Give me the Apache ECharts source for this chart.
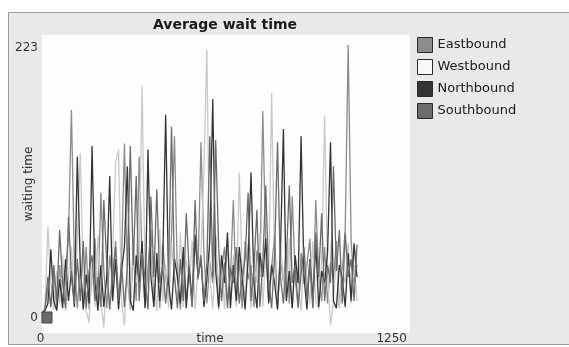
<!DOCTYPE html>
<html>
<head>
<meta charset="utf-8">
<script src="https://cdn.jsdelivr.net/npm/echarts@6/dist/echarts.min.js"></script>
<style>
  html, body {margin: 0; padding: 0; background: #fff;}
  #chart {width: 569px; height: 347px;}
</style>
</head>
<body>
<div id="chart"></div>
<script>
// samples every 10 time units, from t = 0
const timeStep = 10;
const seriesNames = ['Eastbound', 'Westbound', 'Northbound', 'Southbound'];
const yTicks = [0, 223];
const xTicks = [0, 1250];

const eastbound = [
    0, 3, 22, 5, 34, 4, 40, 8, 30, 66, 169, 42,
    4, 38, 10, 55, 3, 30, 62, 10, 100, 35, 4, 48,
    25, 60, 8, 40, 141, 30, 3, 52, 10, 130, 45, 5,
    38, 70, 10, 44, 4, 58, 30, 10, 65, 147, 28, 3,
    50, 10, 40, 5, 60, 35, 142, 50, 8, 42, 25, 64,
    3, 36, 55, 10, 30, 94, 8, 45, 4, 60, 28, 40,
    5, 52, 30, 168, 55, 10, 38, 65, 4, 44, 26, 58,
    8, 97, 30, 4, 50, 24, 40, 62, 5, 94, 30, 10,
    55, 8, 42, 28, 60, 5, 35, 70, 223, 60, 25, 40
];
const westbound = [
    0, 5, 72, 25, 3, 35, 8, 48, 2, 30, 55, 10,
    60, 133, 30, 2, -8, 42, 5, 65, 10, -12, 35, 3,
    50, 125, 136, 10, -10, 38, 4, 60, 25, 45, 189, 30,
    5, 55, 28, 2, 70, 10, 40, 4, 58, 30, 10, 67,
    5, 45, 25, 60, 3, 38, 50, 120, 219, 30, 4, 55,
    25, 40, 3, 62, 10, 48, 5, 117, 35, 10, 58, 4,
    40, 25, 66, 5, 50, 30, 183, 40, 3, 55, 28, 10,
    62, 5, 40, 25, 2, 50, 30, 8, 60, 10, 3, 45,
    164, 30, -10, 10, 48, 4, 36, 25, 58, 8, 40, 10
];
const northbound = [
    0, 2, 8, 53, 10, 2, 28, 4, 45, 10, 35, 5,
    130, 40, 3, 32, 8, 139, 25, 2, 40, 5, 30, 114,
    10, 45, 3, 35, 55, 122, 10, 2, 48, 25, 60, 4,
    136, 30, 5, 50, 10, 40, 165, 25, 3, 45, 30, 8,
    55, 4, 38, 10, 65, 30, 45, 5, 28, 60, 178, 35,
    5, 48, 25, 67, 4, 40, 10, 55, 30, 3, 45, 117,
    25, 4, 50, 30, 62, 8, 40, 25, 3, 52, 153, 10,
    35, 4, 48, 25, 147, 30, 3, 45, 10, 58, 5, 35,
    25, 50, 142, 10, 4, 40, 28, 5, 50, 10, 58, 30
];
const southbound = [
    0, 3, 30, 5, 40, 10, 69, 25, 4, 80, 30, 8,
    45, 10, 60, 4, 35, 48, 10, 30, 5, 94, 40, 3,
    32, 55, 10, 42, 5, 38, 139, 40, 114, 10, 50, 28,
    3, 97, 30, 103, 25, 40, 8, 35, 155, 30, 4, 45,
    10, 83, 35, 5, 94, 28, 48, 10, 40, 147, 30, 144,
    56, 10, 42, 4, 38, 25, 55, 8, 30, 45, 100, 10,
    38, 86, 5, 42, 106, 28, 4, 48, 142, 30, 8, 45,
    106, 25, 40, 5, 32, 55, 10, 45, 4, 67, 30, 83,
    10, 40, 25, 122, 35, 69, 8, 67, 30, 45, 10, 57
];

const font = 'DejaVu Sans';
const pairs = (vals) => vals.map((v, i) => [i * timeStep, v]);

const line = (name, vals, fill, stroke) => ({
    name: name,
    type: 'line',
    data: pairs(vals),
    showSymbol: false,
    symbol: 'none',
    itemStyle: {color: fill},
    lineStyle: {color: stroke, width: 1.3},
    animation: false
});

const chart = echarts.init(document.getElementById('chart'));
chart.setOption({
    animation: false,
    textStyle: {fontFamily: font},
    graphic: [
        {
            type: 'rect', z: -10,
            shape: {x: 8.5, y: 12.5, width: 570, height: 332},
            style: {fill: '#e9e9e9', stroke: '#9a9a9a', lineWidth: 1}
        },
        {
            type: 'rect', z: 10,
            shape: {x: 42, y: 312, width: 10, height: 11},
            style: {fill: '#6a6a6a', stroke: '#444', lineWidth: 1}
        }
    ],
    title: {
        text: 'Average wait time',
        left: 225,
        top: 18,
        padding: 0,
        textAlign: 'center',
        textStyle: {fontFamily: font, fontSize: 14, fontWeight: 'bold', color: '#1a1a1a'}
    },
    legend: {
        orient: 'vertical',
        left: 417,
        top: 37,
        padding: 0,
        icon: 'rect',
        itemWidth: 15,
        itemHeight: 15,
        itemGap: 6,
        itemTextGap: 4,
        itemStyle: {borderColor: '#2a2a2a', borderWidth: 1},
        textStyle: {fontFamily: font, fontSize: 13, color: '#1a1a1a'},
        data: seriesNames
    },
    grid: {
        left: 42,
        right: 159,
        top: 35,
        bottom: 14,
        outerBoundsMode: 'none',
        containLabel: false,
        show: true,
        backgroundColor: '#fdfdfd',
        borderWidth: 0
    },
    xAxis: {
        type: 'value',
        min: 0,
        max: 1250,
        name: 'time',
        nameLocation: 'middle',
        nameGap: 0,
        nameMoveOverlap: false,
        nameTextStyle: {fontFamily: font, fontSize: 12, color: '#333', padding: [0, 32, 0, 0], verticalAlign: 'top'},
        axisLine: {show: false},
        axisTick: {show: false},
        splitLine: {show: false},
        axisLabel: {
            customValues: xTicks,
            margin: 0,
            fontFamily: font,
            fontSize: 12,
            color: '#333',
            formatter: (v) => String(v),
            alignMinLabel: 'center',
            alignMaxLabel: 'right',
            verticalAlign: 'top',
            padding: [0, 3, 0, 0]
        }
    },
    yAxis: {
        type: 'value',
        min: -16.6,
        max: 231.3,
        name: 'waiting time',
        nameLocation: 'middle',
        nameGap: 7,
        nameMoveOverlap: false,
        nameTextStyle: {fontFamily: font, fontSize: 12, color: '#333'},
        axisLine: {show: false},
        axisTick: {show: false},
        splitLine: {show: false},
        axisLabel: {
            customValues: yTicks,
            margin: 4,
            fontFamily: font,
            fontSize: 12,
            color: '#333',
            formatter: (v) => v === 0 ? '{lo|0}' : '{hi|' + v + '}',
            rich: {
                lo: {fontFamily: font, fontSize: 12, color: '#333', padding: [9, 0, 0, 0]},
                hi: {fontFamily: font, fontSize: 12, color: '#333', padding: [5, 0, 0, 0]}
            }
        }
    },
    series: [
        line('Eastbound', eastbound, '#8c8c8c', '#8c8c8c'),
        line('Westbound', westbound, '#f8f8f8', '#c9c9c9'),
        line('Northbound', northbound, '#343434', '#343434'),
        line('Southbound', southbound, '#6c6c6c', '#6c6c6c')
    ]
});
</script>
</body>
</html>
